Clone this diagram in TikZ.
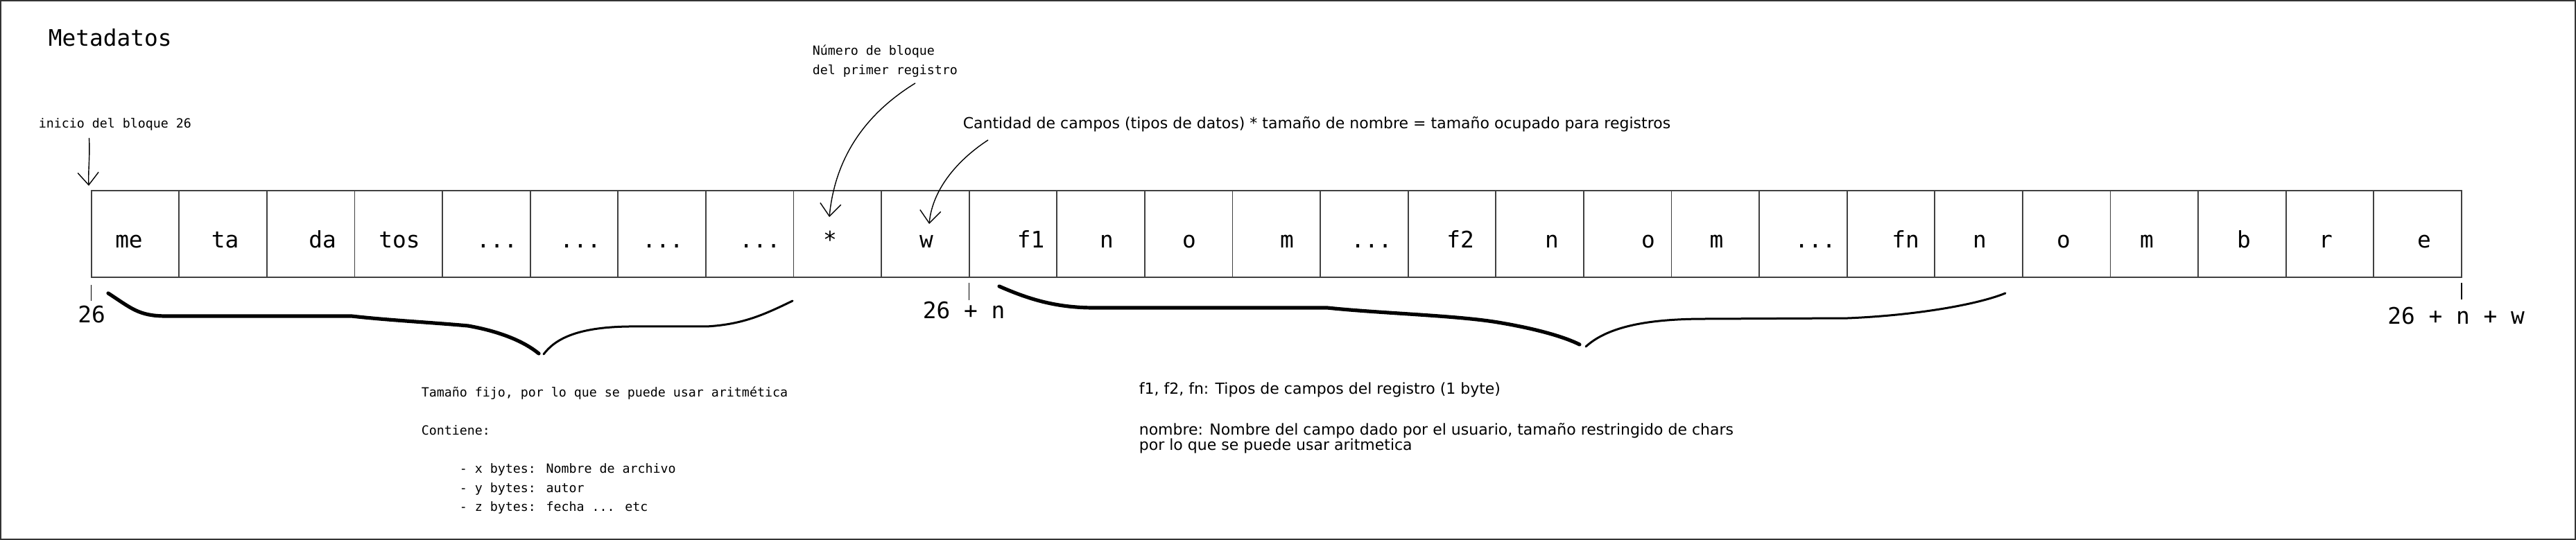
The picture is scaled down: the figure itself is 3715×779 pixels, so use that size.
\documentclass[tikz,border=0pt]{standalone}
\usepackage{fontspec}
\newfontfamily\monof{DejaVu Sans Mono}
\newfontfamily\sansf{DejaVu Sans}
\usetikzlibrary{arrows.meta}
\newcommand{\tdots}{...}
\tikzset{
  cellbox/.style={draw=black!75, line width=0.45pt, minimum width=31.65pt, minimum height=31.25pt, inner sep=0pt, outer sep=0pt},
  biglbl/.style={font=\monof\fontsize{8.2pt}{9.8pt}\selectfont, anchor=base, inner sep=0pt},
  smallmono/.style={font=\monof\fontsize{4.57pt}{7.1pt}\selectfont, inner sep=0pt, anchor=base west},
  sanstext/.style={font=\sansf\fontsize{5.5pt}{6.6pt}\selectfont, inner sep=0pt, anchor=base west},
  tickline/.style={draw=black, line width=0.4pt},
  pointer/.style={draw=black, line width=0.35pt, -{Straight Barb[length=4.5pt,width=7.5pt,line width=0.35pt]}},
  bracethick/.style={draw=black, line width=1.3pt, line cap=round},
  bracethin/.style={draw=black, line width=0.75pt, line cap=round}
}
\begin{document}
\begin{tikzpicture}[x=0.25pt,y=-0.25pt]
\useasboundingbox (0,0) rectangle (3715,779);
\draw[black!80, line width=0.5pt] (1,1) rectangle (3714,778);

% cells
\foreach \i in {1,...,27}
  \node[cellbox] (c\i) at ({131.6+(\i-0.5)*126.6},337.5) {};

% cell labels
\foreach \i/\x/\t in {1/186/me,2/324.5/ta,3/465/da,4/576/tos,5/716.7/\tdots,6/837/\tdots,7/956/\tdots,8/1096/\tdots,
  9/1197/*,10/1336/w,11/1486.5/f1,12/1596/n,13/1715/o,14/1856/m,15/1978/\tdots,16/2106/f2,17/2238/n,18/2377/o,
  19/2475.5/m,20/2618/\tdots,21/2748/fn,22/2855/n,23/2976/o,24/3096/m,25/3236/b,26/3354/r,27/3496/e}
  \node[biglbl] (l\i) at (\x,358) {\t};

% title
\node[font=\monof\fontsize{8.2pt}{9.8pt}\selectfont, anchor=base west, inner sep=0pt] (meta) at (69,67) {Metadatos};

% annotations on top
\node[smallmono] (inicio) at (55,185) {inicio del bloque 26};
\node[smallmono] (num1) at (1171,80) {Número de bloque};
\node[smallmono] (num2) at (1171,108) {del primer registro};
\node[sanstext] (cant) at (1388,186) {Cantidad de campos (tipos de datos) * tamaño de nombre = tamaño ocupado para registros};

\coordinate (a0s) at (128.5,199);
\coordinate (a0e) at (128,268);
\coordinate (a1s) at (1320,120);
\coordinate (a1e) at (1196,313);
\coordinate (a2s) at (1425,202);
\coordinate (a2e) at (1340,323);
\draw[pointer] (a0s) .. controls (130,225) and (127,245) .. (a0e);
\draw[pointer] (a1s) .. controls (1255,160) and (1205,220) .. (a1e);
\draw[pointer] (a2s) .. controls (1385,228) and (1345,270) .. (a2e);

% ticks and offsets
\draw[tickline] (c1.south west) ++(0,11) -- ++(0,23);
\draw[tickline] (c11.south west) ++(0,8) -- ++(0,25);
\draw[tickline] (c27.south east) ++(0,8) -- ++(0,24);
\node[biglbl] (o1) at (132,466) {26};
\node[biglbl] (o2) at (1390,460) {26 + n};
\node[biglbl] (o3) at (3542,468) {26 + n + w};

% braces
\draw[bracethick] (156,423) .. controls (190,445) and (200,456) .. (240,456) -- (507,456)
   .. controls (560,462) and (620,465) .. (675,470) .. controls (720,478) and (755,492) .. (777,510);
\draw[bracethin] (784,511) .. controls (800,490) and (830,472) .. (907,471) -- (1019,471)
   .. controls (1070,468) and (1100,455) .. (1143,434);
\draw[bracethick] (1441,413) .. controls (1480,430) and (1520,444) .. (1578,444) -- (1914,444)
   .. controls (1990,452) and (2100,455) .. (2160,465) .. controls (2220,475) and (2258,487) .. (2278,497);
\draw[bracethin] (2287,500) .. controls (2320,470) and (2380,460) .. (2460,460) -- (2665,459)
   .. controls (2760,455) and (2850,440) .. (2892,423);

% bottom texts
\node[smallmono] (d1) at (607,572) {Tamaño fijo, por lo que se puede usar aritmética};
\node[smallmono] (d2) at (607,628) {Contiene:};
\node[smallmono] (d3) at (607,682) {\phantom{00000}- x bytes: Nombre de archivo};
\node[smallmono] (d4) at (607,710) {\phantom{00000}- y bytes: autor};
\node[smallmono] (d5) at (607,737) {\phantom{00000}- z bytes: fecha ... etc};
\node[sanstext] (e1) at (1642,569) {f1, f2, fn: Tipos de campos del registro (1 byte)};
\node[sanstext] (e2) at (1642,628) {nombre: Nombre del campo dado por el usuario, tamaño restringido de chars};
\node[sanstext] (e3) at (1642,649) {por lo que se puede usar aritmetica};
\end{tikzpicture}
\end{document}
